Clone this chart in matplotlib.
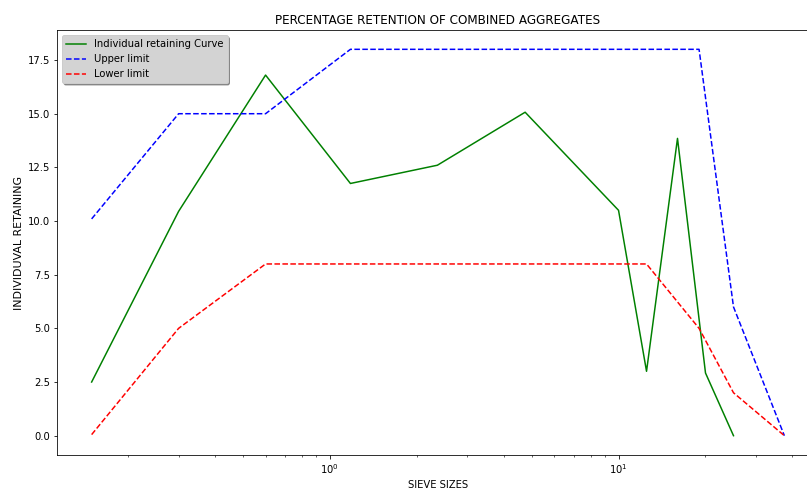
import matplotlib
matplotlib.use('Agg')
import matplotlib.pyplot as plt

# sieve sizes (mm) and percentage retained
sieve_sizes = [0.15, 0.3, 0.6, 1.18, 2.36, 4.75, 10, 12.5, 16, 20, 25]
retained = [2.5, 10.45, 16.8, 11.75, 12.6, 15.07, 10.5, 3.0, 13.85, 2.92, 0.0]

limit_sizes = [0.15, 0.3, 0.6, 1.18, 2.36, 4.75, 10, 12.5, 19, 25, 37.5]
upper_limit = [10.1, 15, 15, 18, 18, 18, 18, 18, 18, 6, 0]
lower_limit = [0.05, 5, 8, 8, 8, 8, 8, 8, 5, 2, 0]

fig = plt.figure(figsize=(807 / 72, 495 / 72), dpi=72)
# axes runs a little past the right edge, as in the original crop
ax = fig.add_axes([57 / 807, 40 / 495, 762 / 807, 425 / 495])

ax.plot(sieve_sizes, retained, 'g', label='Individual retaining Curve')
ax.plot(limit_sizes, upper_limit, 'b--', label='Upper limit')
ax.plot(limit_sizes, lower_limit, 'r--', label='Lower limit')
ax.set_xscale('log')

ax.set_title('PERCENTAGE RETENTION OF COMBINED AGGREGATES')
ax.set_xlabel('SIEVE SIZES')
ax.set_ylabel('INDIVIDUVAL RETAINING', fontsize=11)
ax.legend(loc='upper left', facecolor='#d3d3d3', framealpha=1, shadow=True)

fig.savefig('out.png', dpi=72)
